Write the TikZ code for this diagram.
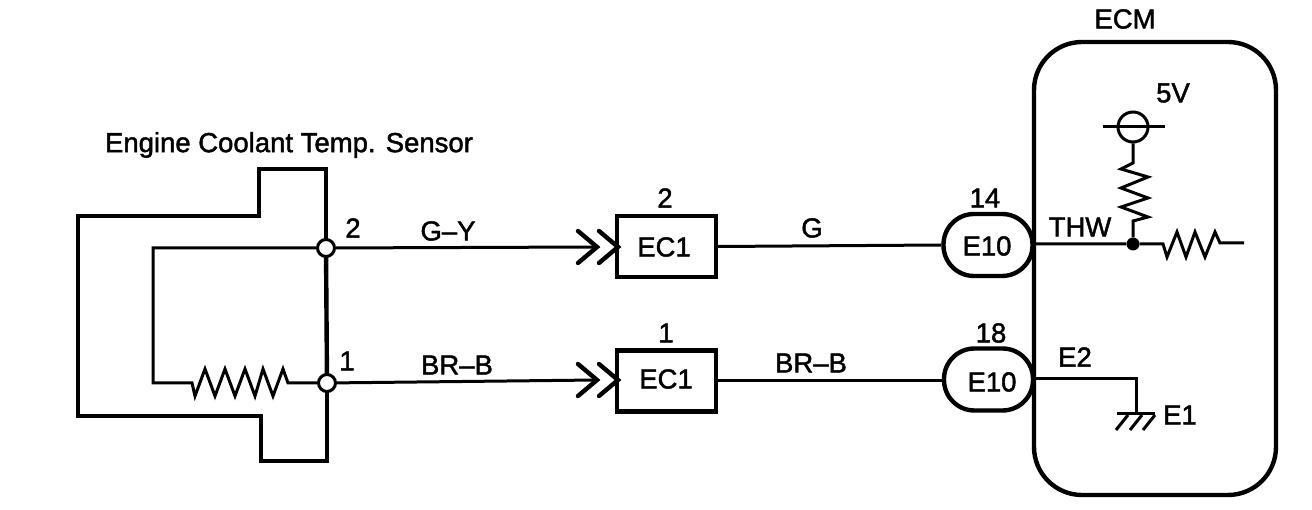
\documentclass[tikz,border=0pt]{standalone}
\usepackage{fontspec}
\setmainfont{Liberation Sans}
\newfontfamily\lblfont[FakeBold=1.6]{Liberation Sans}
\begin{document}
\begin{tikzpicture}[x=1pt,y=-1pt,
  wire/.style={line width=3pt,line join=miter},
  thick wire/.style={line width=4.4pt,line join=miter},
  lbl/.style={font=\lblfont\fontsize{27.5}{27.5}\selectfont,inner sep=0pt},
  pin/.style={circle,draw,fill=white,line width=3pt,minimum size=17pt,inner sep=0pt},
  conn/.style={rectangle,draw,line width=4.4pt,fill=white,inner sep=0pt,minimum width=99pt,minimum height=61pt},
  oval/.style={rectangle,draw,rounded corners=30.5pt,line width=4.4pt,fill=white,inner sep=0pt,minimum width=89pt,minimum height=62pt}]
\useasboundingbox (0,0) rectangle (1312,510);
\fill[white] (0,0) rectangle (1312,510);
% sensor housing
\draw[thick wire] (326,248) -- (326,169) -- (259,169) -- (259,216) -- (78,216) -- (78,416) -- (261,416) -- (261,461) -- (327,461) -- (327,383);
\draw[thick wire] (326,248) -- (327,383);
% ECM housing
\draw[thick wire,rounded corners=48pt] (1034,42) rectangle (1276,495);
% pins
\coordinate (inA) at (153,248);
\coordinate (inB) at (153,383);
\coordinate (ra) at (192,383);
\coordinate (rb) at (288,383);
\node[pin] (p2) at (326,248) {};
\node[pin] (p1) at (327,383) {};
\draw[wire] (p2) -- (inA) -- (inB) -- (ra) -- (195,396) -- (205,369) -- (215,396) -- (225,369) -- (235,396) -- (245,369) -- (255,396) -- (263,369) -- (273,396) -- (283,369) -- (rb) -- (p1);
% connectors
\node[conn] (ec2) at (666.5,246.5) {};
\node[conn] (ec1) at (666.5,381) {};
\node[oval] (e14) at (988,245) {};
\node[oval] (e18) at (988.5,379.5) {};
\node[lbl] at (664,247) {EC1};
\node[lbl] at (666,379) {EC1};
\node[lbl] at (987,246) {E10};
\node[lbl] at (992,382) {E10};
\coordinate (t2a) at (597,247);
\coordinate (t2b) at (618,247);
\coordinate (t1a) at (597,380);
\coordinate (t1b) at (618,380);
\draw[wire] (p2) -- (t2a);
\draw[wire] (p1) -- (t1a);
\foreach \t in {t2a,t2b,t1a,t1b}
  \draw[thick wire,line cap=round] ([shift={(-19,-16)}]\t) -- (\t) -- ([shift={(-19,16)}]\t);
\draw[wire] (ec2.east) -- (e14.west);
\draw[wire] (ec1.east) -- (ec1.east -| e18.west);
% ECM inside
\coordinate (thw) at (1034,244);
\coordinate (dotp) at (1133,244);
\node[circle,fill,minimum size=13pt,inner sep=0pt] (dot) at (dotp) {};
\node[circle,draw,line width=3pt,minimum size=30pt,inner sep=0pt] (vc) at (1133,127) {};
\coordinate (barl) at (1103,127);
\coordinate (barr) at (1165,127);
\coordinate (end) at (1244,243);
\draw[wire] (barl) -- (barr);
\draw[wire] (vc) -- (1133,163) -- (1121,169) -- (1148,177) -- (1121,188) -- (1148,198) -- (1121,207) -- (1148,217) -- (1133,221) -- (dot);
\draw[wire] (thw) -- (dot) -- (1163,244) -- (1167,257) -- (1177,232) -- (1186,257) -- (1195,232) -- (1205,257) -- (1215,232) -- (1220,243) -- (end);
\coordinate (e2) at (1034,379);
\coordinate (gnd) at (1136,414);
\draw[wire] (e2) -- (1136,379) -- (gnd);
\draw[wire] (1117,414) -- (1155,414);
\foreach \x in {1128,1142,1155}
  \draw[wire] (\x,415) -- (\x-12,430);
% labels
\node[lbl] at (289,145) {Engine Coolant Temp. Sensor};
\node[lbl] at (353,228) {2};
\node[lbl] at (347,361) {1};
\node[lbl] at (448,231) {G–Y};
\node[lbl] at (457,365) {BR–B};
\node[lbl] at (812,228) {G};
\node[lbl] at (811,363) {BR–B};
\node[lbl] at (665,198) {2};
\node[lbl] at (666,333) {1};
\node[lbl] at (985,198) {14};
\node[lbl] at (991,333) {18};
\node[lbl] at (1125,19) {ECM};
\node[lbl] at (1173,93) {5V};
\node[lbl] at (1080,227) {THW};
\node[lbl] at (1075,357) {E2};
\node[lbl] at (1180,415) {E1};
\end{tikzpicture}
\end{document}
